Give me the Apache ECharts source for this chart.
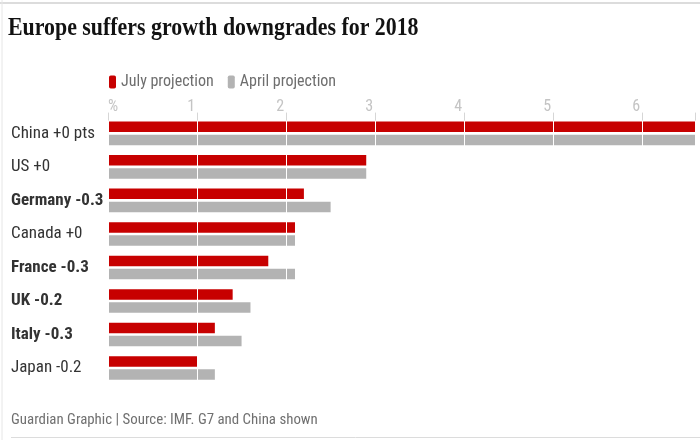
<!DOCTYPE html>
<html>
<head>
<meta charset="utf-8">
<script src="https://cdn.jsdelivr.net/npm/echarts@6/dist/echarts.min.js"></script>
<style>
html,body{margin:0;padding:0;background:#fff;}
#chart{width:700px;height:440px;}
</style>
</head>
<body>
<div id="chart"></div>
<script>
const titleText = 'Europe suffers growth downgrades for 2018';
const footerText = 'Guardian Graphic | Source: IMF. G7 and China shown';
const categories = ['China +0 pts','US +0','Germany -0.3','Canada +0','France -0.3','UK -0.2','Italy -0.3','Japan -0.2'];
const boldCategory = [false,false,true,false,true,true,true,false];
const julyProjection = [6.6,2.9,2.2,2.1,1.8,1.4,1.2,1.0];
const aprilProjection = [6.6,2.9,2.5,2.1,2.1,1.6,1.5,1.2];
const xTickLabels = ['%','1','2','3','4','5','6'];

const chart = echarts.init(document.getElementById('chart'), null, {renderer:'canvas'});
const FONT = 'Roboto Condensed';
chart.setOption({
  animation:false,
  backgroundColor:'#fff',
  legend:{
    left:104, top:69,
    icon:'roundRect', itemWidth:7, itemHeight:13, itemGap:14,
    textStyle:{fontFamily:FONT, fontSize:16, color:'#6e6e6e'},
    data:['July projection','April projection']
  },
  graphic:[
    {type:'line', shape:{x1:0,y1:3,x2:700,y2:3}, style:{stroke:'#dcdcdc', lineWidth:2}},
    {type:'line', shape:{x1:2,y1:0,x2:2,y2:440}, style:{stroke:'#e6e6e6', lineWidth:1}},
    {type:'line', shape:{x1:11,y1:437.5,x2:700,y2:437.5}, style:{stroke:'#dcdcdc', lineWidth:1}},
    {type:'text', x:8, y:16, scaleX:0.875, style:{text:titleText, fontFamily:'Liberation Serif', fontWeight:'bold', fontSize:25, fill:'#121212'}},
    {type:'text', left:11, top:413, style:{text:footerText, fontFamily:FONT, fontSize:14.9, fill:'#707070'}}
  ],
  grid:{left:108, right:4.3, top:116.6, bottom:55.2, containLabel:false},
  xAxis:{
    type:'value', position:'top', min:0, max:6.6, interval:1, offset:-4, z:10,
    axisLine:{show:false},
    axisTick:{show:true, length:8, lineStyle:{color:'#d6d6d6'}},
    splitLine:{show:true, lineStyle:{color:'#ffffff', width:1}},
    axisLabel:{
      color:'#c4c4c4', fontFamily:FONT, fontSize:16, margin:6, align:'right', alignMinLabel:'left', padding:[0,2,0,0],
      formatter:function(v){ const i = Math.round(v); return (Math.abs(v-i)<1e-9 && i < xTickLabels.length) ? xTickLabels[i] : ''; }
    }
  },
  yAxis:{
    type:'category', inverse:true, data:categories,
    axisLine:{show:false}, axisTick:{show:false}, splitLine:{show:false},
    axisLabel:{
      align:'left', margin:97, fontFamily:FONT, fontSize:17, color:'#333',
      formatter:function(v, idx){ return boldCategory[idx] ? '{b|'+v+'}' : '{n|'+v+'}'; },
      rich:{
        b:{fontFamily:FONT, fontSize:17, fontWeight:'bold', color:'#333'},
        n:{fontFamily:FONT, fontSize:17, color:'#333'}
      }
    }
  },
  series:[
    {name:'July projection', type:'bar', data:julyProjection, barWidth:10.5, barGap:'25%', itemStyle:{color:'#c70000'}},
    {name:'April projection', type:'bar', data:aprilProjection, barWidth:10.5, barGap:'25%', itemStyle:{color:'#b3b3b3'}}
  ]
});
</script>
</body>
</html>
